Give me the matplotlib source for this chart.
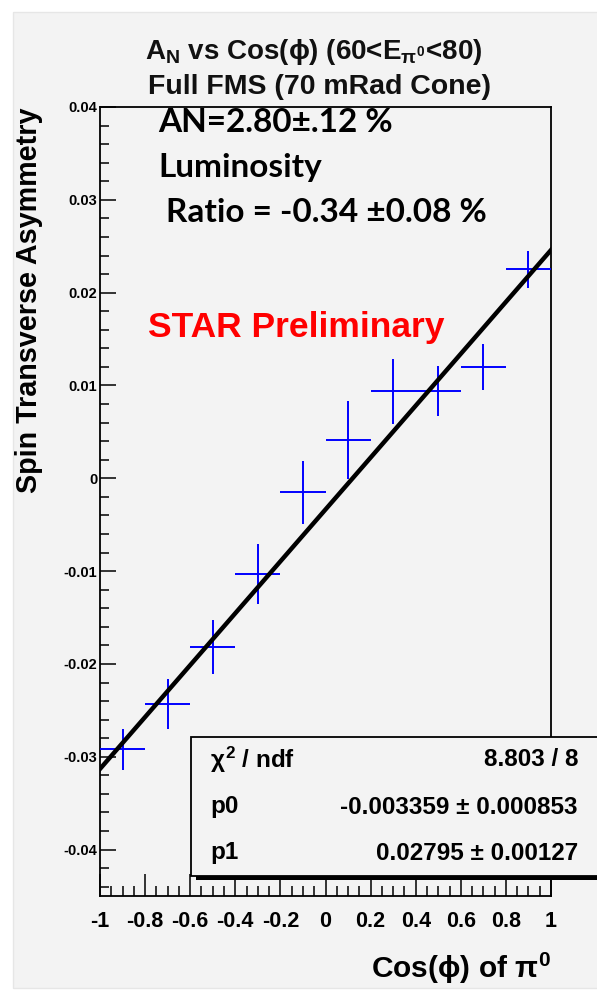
import numpy as np
import matplotlib
matplotlib.use('Agg')
import matplotlib.pyplot as plt
from matplotlib.patches import Rectangle
from matplotlib.ticker import MultipleLocator

# font setup (ROOT style looks like Arial bold)
plt.rcParams['font.family'] = ['Liberation Sans', 'DejaVu Sans']
plt.rcParams['font.weight'] = 'bold'
plt.rcParams['mathtext.fontset'] = 'custom'
plt.rcParams['mathtext.rm'] = 'Liberation Sans:bold'
plt.rcParams['mathtext.it'] = 'Liberation Sans:bold'
plt.rcParams['mathtext.bf'] = 'Liberation Sans:bold'
plt.rcParams['mathtext.fallback'] = 'stixsans'

# data
cos_phi = [-0.9, -0.7, -0.5, -0.3, -0.1, 0.1, 0.3, 0.5, 0.7, 0.9]
bin_half = [0.1] * 10
asym = [-0.0292, -0.0243, -0.0182, -0.0103, -0.0015, 0.0041, 0.0094, 0.0094, 0.0120, 0.0225]
asym_err = [0.0022, 0.0027, 0.0029, 0.0032, 0.0034, 0.0042, 0.0035, 0.0027, 0.0025, 0.0020]

# fit results from the stats box
p0 = -0.003359
p1 = 0.02795
stat_names = [r'$\chi^{2}$ / ndf', 'p0', 'p1']
stat_values = ['8.803 / 8', u'-0.003359 \u00b1 0.000853', u'0.02795 \u00b1 0.00127']

W, H = 597, 990
bg = '#f3f3f3'
fig = plt.figure(figsize=(W / 100, H / 100), dpi=100)
fig.patch.set_facecolor('white')
# grey canvas with white margin top/left
fig.patches.append(Rectangle((13 / W, 2 / H), 1, 1 - 14 / H, transform=fig.transFigure,
                             facecolor=bg, edgecolor='#e6e6e6', lw=1, zorder=-1))

ax = fig.add_axes([100 / W, 1 - 896 / H, 451 / W, 789 / H])
ax.set_zorder(1)
ax.set_facecolor(bg)
ax.set_xlim(-1, 1)
ax.set_ylim(-0.045, 0.04)

ax.errorbar(cos_phi, asym, xerr=bin_half, yerr=asym_err, fmt='none',
            ecolor='#0000ff', elinewidth=1.4, capsize=0, zorder=3)

xf = np.array([-1.0, 1.0])
ax.plot(xf, p0 + p1 * xf, color='black', lw=3.2, zorder=4)

for s in ax.spines.values():
    s.set_linewidth(1.3)

ax.xaxis.set_major_locator(MultipleLocator(0.2))
ax.xaxis.set_minor_locator(MultipleLocator(0.05))
ax.yaxis.set_major_locator(MultipleLocator(0.01))
ax.yaxis.set_minor_locator(MultipleLocator(0.002))
ax.tick_params(axis='x', which='major', direction='in', length=16, width=1.1, labelsize=15.5, pad=11)
ax.tick_params(axis='x', which='minor', direction='in', length=7, width=1.1)
ax.tick_params(axis='y', which='major', direction='in', length=11.5, width=1.1, labelsize=10.5, pad=2)
ax.tick_params(axis='y', which='minor', direction='in', length=6.5, width=1.1)
ax.set_xticks([-1, -0.8, -0.6, -0.4, -0.2, 0, 0.2, 0.4, 0.6, 0.8, 1])
ax.set_xticklabels(['-1', '-0.8', '-0.6', '-0.4', '-0.2', '0', '0.2', '0.4', '0.6', '0.8', '1'])
ax.set_yticks([-0.04, -0.03, -0.02, -0.01, 0, 0.01, 0.02, 0.03, 0.04])
ax.set_yticklabels(['-0.04', '-0.03', '-0.02', '-0.01', '0', '0.01', '0.02', '0.03', '0.04'])

# titles and axis labels
fig.text(314 / W, 1 - 52 / H, r'A$_{N}$ vs Cos($\phi$) (60<E$_{\pi^{0}}$<80)',
         ha='center', va='center', fontsize=20, color='#111111')
fig.text(320 / W, 1 - 87 / H, 'Full FMS (70 mRad Cone)', ha='center', va='center',
         fontsize=20.5, color='#111111')
fig.text(29 / W, 1 - 300 / H, 'Spin Transverse Asymmetry', rotation=90,
         ha='center', va='center', fontsize=20.7)
fig.text(551 / W, 1 - 968 / H, r'Cos($\phi$) of $\pi^{0}$', ha='right', va='center', fontsize=21.5)

# annotations
fig.text(158 / W, 1 - 123 / H, u'AN=2.80\u00b1.12 %', family='Lato', fontweight='bold',
         fontsize=24, ha='left', va='center')
fig.text(158 / W, 1 - 168 / H, 'Luminosity', family='Lato', fontweight='bold',
         fontsize=24, ha='left', va='center')
fig.text(166 / W, 1 - 213 / H, u'Ratio = -0.34 \u00b10.08 %', family='Lato', fontweight='bold',
         fontsize=24, ha='left', va='center')
fig.text(148 / W, 1 - 327 / H, 'STAR Preliminary', color='#ff0000', fontsize=25.5,
         ha='left', va='center')

# stats box (runs off the right edge)
fig.patches.append(Rectangle((196 / W, 1 - 880 / H), 1, 140 / H, transform=fig.transFigure,
                             facecolor='black', edgecolor='none', zorder=5))
fig.patches.append(Rectangle((191 / W, 1 - 876 / H), 1, 139 / H, transform=fig.transFigure,
                             facecolor=bg, edgecolor='black', lw=1.3, zorder=6))
row_y = [760, 807, 853]
for name, val, yy in zip(stat_names, stat_values, row_y):
    t1 = fig.text(210 / W, 1 - yy / H, name, ha='left', va='center', fontsize=17.5)
    t2 = fig.text(578 / W, 1 - yy / H, val, ha='right', va='center', fontsize=17.5)
    t1.set_zorder(7)
    t2.set_zorder(7)

fig.savefig('out.png', dpi=100, facecolor=fig.get_facecolor())
